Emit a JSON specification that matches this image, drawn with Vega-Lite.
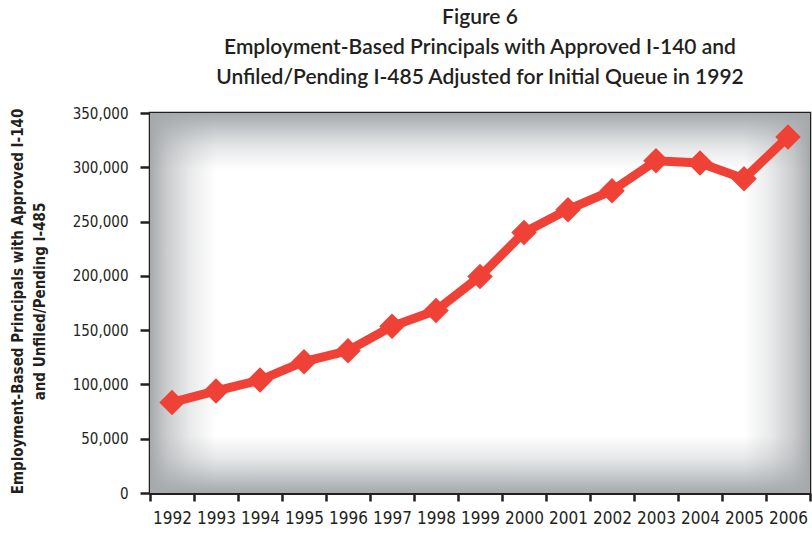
{
  "$schema": "https://vega.github.io/schema/vega-lite/v6.json",
  "width": 660,
  "height": 380,
  "autosize": "none",
  "padding": {"left": 150, "top": 113, "right": 2, "bottom": 40},
  "background": "white",
  "title": {
    "text": ["Figure 6", "Employment-Based Principals with Approved I-140 and", "Unfiled/Pending I-485 Adjusted for Initial Queue in 1992"],
    "font": "Lato",
    "fontSize": 21,
    "fontWeight": 600,
    "lineHeight": 30,
    "color": "#231f20",
    "anchor": "middle",
    "offset": -1,
    "dy": -19
  },
  "config": {
    "view": {"stroke": "#231f20", "strokeWidth": 2.5},
    "axis": {
      "domainColor": "#231f20",
      "domainWidth": 3,
      "tickColor": "#231f20",
      "tickWidth": 2.5,
      "labelColor": "#231f20",
      "labelFont": "DejaVu Sans Condensed",
      "titleColor": "#231f20"
    }
  },
  "layer": [
    {
      "data": {"values": [{"bg": 1}]},
      "mark": {
        "type": "rect",
        "fill": {
          "gradient": "linear", "x1": 0, "y1": 0, "x2": 0, "y2": 1,
          "stops": [
            {"offset": 0, "color": "#a6a9ac"},
            {"offset": 0.04, "color": "#c3c6c9"},
            {"offset": 0.09, "color": "#e6e7e8"},
            {"offset": 0.15, "color": "#ffffff"},
            {"offset": 0.85, "color": "#ffffff"},
            {"offset": 0.91, "color": "#e6e7e8"},
            {"offset": 0.96, "color": "#c3c6c9"},
            {"offset": 1, "color": "#a6a9ac"}
          ]
        }
      },
      "encoding": {
        "x": {"value": 0}, "x2": {"value": "width"},
        "y": {"value": 0}, "y2": {"value": "height"}
      }
    },
    {
      "data": {"values": [{"bg": 1}]},
      "mark": {
        "type": "rect",
        "fill": {
          "gradient": "linear", "x1": 0, "y1": 0, "x2": 1, "y2": 0,
          "stops": [
            {"offset": 0, "color": "rgba(166,169,172,1)"},
            {"offset": 0.025, "color": "rgba(166,169,172,0.6)"},
            {"offset": 0.06, "color": "rgba(166,169,172,0.25)"},
            {"offset": 0.1, "color": "rgba(166,169,172,0)"},
            {"offset": 0.9, "color": "rgba(166,169,172,0)"},
            {"offset": 0.94, "color": "rgba(166,169,172,0.25)"},
            {"offset": 0.975, "color": "rgba(166,169,172,0.6)"},
            {"offset": 1, "color": "rgba(166,169,172,1)"}
          ]
        }
      },
      "encoding": {
        "x": {"value": 0}, "x2": {"value": "width"},
        "y": {"value": 0}, "y2": {"value": "height"}
      }
    },
    {
      "data": {
        "values": [
          {"year": "1992", "count": 83400},
          {"year": "1993", "count": 94000},
          {"year": "1994", "count": 104000},
          {"year": "1995", "count": 121000},
          {"year": "1996", "count": 131000},
          {"year": "1997", "count": 153500},
          {"year": "1998", "count": 168000},
          {"year": "1999", "count": 199500},
          {"year": "2000", "count": 240000},
          {"year": "2001", "count": 261000},
          {"year": "2002", "count": 278500},
          {"year": "2003", "count": 306000},
          {"year": "2004", "count": 304000},
          {"year": "2005", "count": 289500},
          {"year": "2006", "count": 328000}
        ]
      },
      "encoding": {
        "x": {
          "field": "year", "type": "ordinal",
          "scale": {"type": "band", "paddingInner": 0, "paddingOuter": 0},
          "axis": {
            "title": null, "labelAngle": 0, "tickBand": "extent",
            "tickSize": 8, "labelPadding": 9, "labelFontSize": 17,
            "labelOverlap": false,
            "domain": true, "grid": false
          }
        },
        "y": {
          "field": "count", "type": "quantitative",
          "scale": {"domain": [0, 350000], "nice": false},
          "axis": {
            "values": [0, 50000, 100000, 150000, 200000, 250000, 300000, 350000],
            "format": ",d",
            "grid": true, "gridColor": "#231f20", "gridWidth": 2.5, "gridOpacity": 1,
            "tickSize": 10, "labelPadding": 12, "labelFontSize": 15,
            "title": ["Employment-Based Principals with Approved I-140", "and Unfiled/Pending I-485"],
            "titleFont": "DejaVu Sans Condensed",
            "titleFontSize": 15, "titleFontWeight": "bold",
            "titleLineHeight": 22,
            "titleAngle": -90,
            "titleAlign": "center",
            "titleBaseline": "top",
            "titleX": -140,
            "titleY": 188
          }
        }
      },
      "layer": [
        {"mark": {"type": "line", "color": "#ef4136", "strokeWidth": 9, "strokeJoin": "miter"}},
        {"mark": {"type": "point", "shape": "diamond", "filled": true, "color": "#ef4136", "opacity": 1, "size": 650}}
      ]
    }
  ]
}
